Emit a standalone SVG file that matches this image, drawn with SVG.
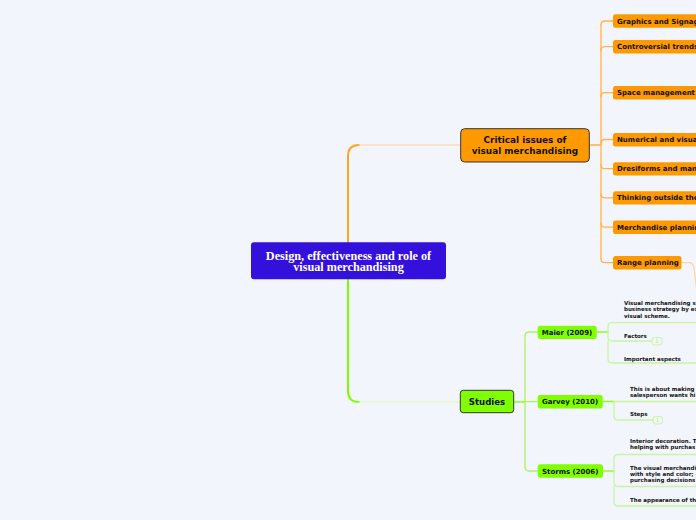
<svg xmlns="http://www.w3.org/2000/svg" width="696" height="520" viewBox="0 0 696 520">
<style>
.bg{fill:#f3f5fd}
.t{font-family:"DejaVu Sans",Verdana,sans-serif;font-weight:bold;fill:#111}
.o{fill:#ff9900}
.g{fill:#80ff00}
.c{fill:none;stroke-linecap:round;stroke-linejoin:round}
.ov{stroke:#ffa526;stroke-width:2}
.op{stroke:#fdd3a0;stroke-width:1.2}
.ol{stroke:#ffb347;stroke-width:1.3}
.gv{stroke:#80ff00;stroke-width:2}
.gp{stroke:#d3ffa8;stroke-width:1.2}
.gb{stroke:#8cff1a;stroke-width:1.4}
.gl{stroke:#a8f560;stroke-width:1.3}
.gs{stroke:#c8f59e;stroke-width:1.3}
.s7{font-size:7px}
.s5{font-size:5.5px}
.badge{fill:none;stroke:#c8f59e;stroke-width:1}
.bt{font-family:"DejaVu Sans",Verdana,sans-serif;font-size:5.5px;fill:#b5ec80;text-anchor:middle}
</style>
<rect class="bg" x="0" y="0" width="696" height="520"/>
<g id="connectors">
<path class="c ov" d="M348,242 L348,156 Q348,145 359,145"/>
<path class="c op" d="M359,145 L460,145"/>
<path class="c gv" d="M348,279 L348,391 Q348,402 359,402"/>
<path class="c gp" d="M359,402 L460,402"/>
<path class="c ol" d="M590,145 L601,145"/>
<path class="c ol" d="M601,25 L601,258.7"/>
<path class="c ol" d="M601,25 Q601,21 605,21 L613,21"/>
<path class="c ol" d="M601,50.7 Q601,46.7 605,46.7 L613,46.7"/>
<path class="c ol" d="M601,96.7 Q601,92.7 605,92.7 L613,92.7"/>
<path class="c ol" d="M601,143.5 Q601,139.5 605,139.5 L613,139.5"/>
<path class="c ol" d="M601,164.7 Q601,168.7 605,168.7 L613,168.7"/>
<path class="c ol" d="M601,193.8 Q601,197.8 605,197.8 L613,197.8"/>
<path class="c ol" d="M601,223.2 Q601,227.2 605,227.2 L613,227.2"/>
<path class="c ol" d="M601,258.7 Q601,262.7 605,262.7 L613,262.7"/>
<path class="c op" d="M681.5,262.7 L689,262.7 Q693,262.7 694,268 L697,292"/>
<path class="c gb" d="M514,402 L525,402"/>
<path class="c gl" d="M525,336 L525,467"/>
<path class="c gl" d="M525,336 Q525,332 529,332 L538,332"/>
<path class="c gl" d="M525,401.7 L538,401.7"/>
<path class="c gl" d="M525,467 Q525,471 529,471 L538,471"/>
<path class="c gb" d="M597,332 L608,332"/>
<path class="c gs" d="M608,332 L608,326.7 Q608,322.7 612,322.7 L700,322.7"/>
<path class="c gs" d="M608,332 L608,337 Q608,341 612,341 L652,341"/>
<path class="c gs" d="M608,341 L608,359 Q608,363 612,363 L700,363"/>
<path class="c gb" d="M603,401.5 L614,401.5"/>
<path class="c gs" d="M614,401.5 L700,401.5"/>
<path class="c gs" d="M614,401.5 L614,416 Q614,420 618,420 L653,420"/>
<path class="c gb" d="M603,471 L614,471"/>
<path class="c gs" d="M614,471 L614,458.5 Q614,454.5 618,454.5 L700,454.5"/>
<path class="c gs" d="M614,471 L614,482.5 Q614,486.5 618,486.5 L700,486.5"/>
<path class="c gs" d="M614,486.5 L614,502 Q614,506 618,506 L700,506"/>
</g>
<g id="root">
<rect x="251" y="242.3" width="195" height="37" rx="3" fill="#3410dc"/>
<text x="348.5" y="259.5" font-family="'Liberation Serif',serif" font-weight="bold" font-size="12.2" fill="#fff" text-anchor="middle">Design, effectiveness and role of</text>
<text x="348.5" y="270.5" font-family="'Liberation Serif',serif" font-weight="bold" font-size="12.2" fill="#fff" text-anchor="middle">visual merchandising</text>
</g>
<g id="critical">
<rect class="o" x="460.7" y="128.7" width="128.6" height="33.3" rx="4" stroke="#333" stroke-width="1"/>
<text class="t" x="525" y="143.2" font-size="8.9" text-anchor="middle">Critical issues of</text>
<text class="t" x="525" y="154" font-size="8.9" text-anchor="middle">visual merchandising</text>
</g>
<g id="graphics"><rect class="o" x="613" y="14.3" width="100" height="13.4" rx="2.5"/><text class="t s7" x="617" y="23.5">Graphics and Signag</text></g>
<g id="controversial"><rect class="o" x="613" y="40" width="100" height="13.4" rx="2.5"/><text class="t s7" x="617" y="49.2">Controversial trends</text></g>
<g id="space"><rect class="o" x="613" y="86" width="100" height="13.4" rx="2.5"/><text class="t s7" x="617" y="95.2">Space management</text></g>
<g id="numerical"><rect class="o" x="613" y="133" width="100" height="13.4" rx="2.5"/><text class="t s7" x="617" y="142.2">Numerical and visua</text></g>
<g id="dressforms"><rect class="o" x="613" y="162.2" width="100" height="13.4" rx="2.5"/><text class="t s7" x="617" y="171.4">Dresiforms and man</text></g>
<g id="thinking"><rect class="o" x="613" y="191.2" width="100" height="13.4" rx="2.5"/><text class="t s7" x="617" y="200.4">Thinking outside the</text></g>
<g id="merchandise"><rect class="o" x="613" y="220.5" width="100" height="13.4" rx="2.5"/><text class="t s7" x="617" y="229.7">Merchandise plannin</text></g>
<g id="range"><rect class="o" x="613" y="256" width="68.5" height="13.4" rx="2.5"/><text class="t s7" x="617" y="265.3">Range planning</text></g>
<g id="studies">
<rect class="g" x="460.3" y="390.3" width="53.4" height="22.4" rx="3" stroke="#333" stroke-width="1"/>
<text class="t" x="487" y="405.2" font-size="8.6" text-anchor="middle">Studies</text>
</g>
<g id="maier"><rect class="g" x="537.7" y="325.7" width="59" height="13.4" rx="2.5"/><text class="t s7" x="541.7" y="334.8">Maier (2009)</text></g>
<g id="garvey"><rect class="g" x="537.7" y="395" width="65" height="13.4" rx="2.5"/><text class="t s7" x="542" y="404.2">Garvey (2010)</text></g>
<g id="storms"><rect class="g" x="537.7" y="464.3" width="65.3" height="13.4" rx="2.5"/><text class="t s7" x="542" y="473.5">Storms (2006)</text></g>
<g id="maier-1"><text class="t s5"><tspan x="624" y="304.6">Visual merchandising s</tspan><tspan x="624" y="311.1">business strategy by ex</tspan><tspan x="624" y="317.6">visual scheme.</tspan></text></g>
<g id="maier-factors"><text class="t s5" x="624" y="338">Factors</text><rect class="badge" x="652" y="337.5" width="10" height="7.5" rx="2.5"/><text class="bt" x="657" y="343.3">1</text></g>
<g id="maier-aspects"><text class="t s5" x="624" y="361.3">Important aspects</text></g>
<g id="garvey-1"><text class="t s5"><tspan x="630" y="391">This is about making</tspan><tspan x="630" y="397">salesperson wants hi</tspan></text></g>
<g id="garvey-steps"><text class="t s5" x="630" y="416.3">Steps</text><rect class="badge" x="653" y="416.5" width="9.5" height="7.5" rx="2.5"/><text class="bt" x="657.8" y="422.3">1</text></g>
<g id="storms-1"><text class="t s5"><tspan x="630" y="443">Interior decoration. T</tspan><tspan x="630" y="449">helping with purchas</tspan></text></g>
<g id="storms-2"><text class="t s5"><tspan x="630" y="470">The visual merchandi</tspan><tspan x="630" y="475.8">with style and color; -</tspan><tspan x="630" y="481.6">purchasing decisions</tspan></text></g>
<g id="storms-3"><text class="t s5" x="630" y="502">The appearance of th</text></g>
</svg>
